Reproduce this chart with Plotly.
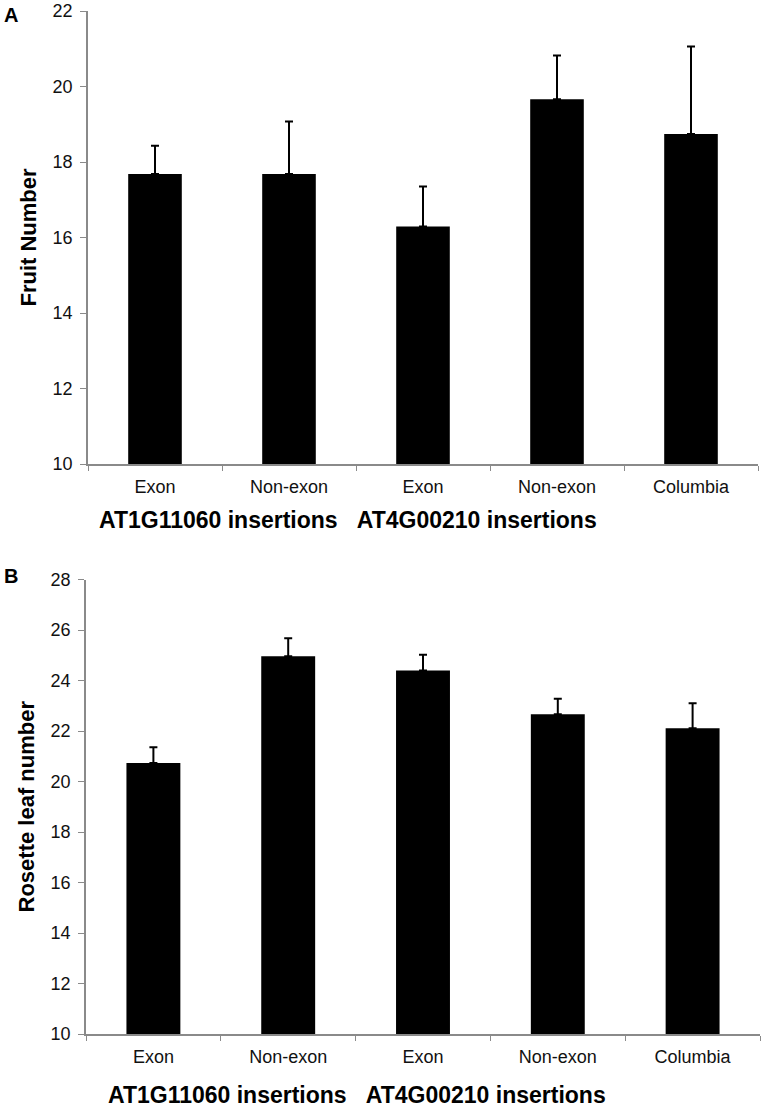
import plotly.graph_objects as go

categories = ["Exon", "Non-exon", "Exon ", "Non-exon ", "Columbia"]
tick_text = ["Exon", "Non-exon", "Exon", "Non-exon", "Columbia"]

fruit_mean = [17.68, 17.68, 16.29, 19.66, 18.74]
fruit_err = [0.75, 1.39, 1.06, 1.16, 2.32]

rosette_mean = [20.73, 24.96, 24.40, 22.66, 22.11]
rosette_err = [0.63, 0.71, 0.62, 0.62, 0.99]

group_label = "AT1G11060 insertions\u00a0\u00a0\u00a0AT4G00210 insertions"

W, H = 766, 1116
FONT = "Liberation Sans, Arial, sans-serif"


def px_x(p):
    return p / W


def px_y(p):
    return (H - p) / H


fig = go.Figure()

fig.add_trace(go.Bar(
    x=categories, y=fruit_mean, xaxis="x", yaxis="y",
    marker=dict(color="black", line=dict(width=0)),
    error_y=dict(type="data", array=fruit_err, symmetric=False,
                 arrayminus=[0] * 5, color="black", thickness=2, width=4),
    showlegend=False,
))
fig.add_trace(go.Bar(
    x=categories, y=rosette_mean, xaxis="x2", yaxis="y2",
    marker=dict(color="black", line=dict(width=0)),
    error_y=dict(type="data", array=rosette_err, symmetric=False,
                 arrayminus=[0] * 5, color="black", thickness=2, width=4),
    showlegend=False,
))

axis_col = "#8a8a8a"
xcommon = dict(
    type="category", tickmode="array", tickvals=categories, ticktext=tick_text,
    tickson="boundaries", ticks="outside", ticklen=5, tickcolor=axis_col,
    showline=True, linecolor=axis_col, linewidth=1.5, showgrid=False,
    tickfont=dict(family=FONT, size=18, color="#111"), automargin=False,
    ticklabelstandoff=6,
)
ycommon = dict(
    dtick=2, ticks="outside", ticklen=6, tickcolor=axis_col,
    showline=True, linecolor=axis_col, linewidth=1.5, showgrid=False,
    zeroline=False, tickfont=dict(family=FONT, size=18, color="#111"),
    automargin=False, ticklabelstandoff=4,
)

fig.update_layout(
    width=W, height=H,
    margin=dict(l=0, r=0, t=0, b=0),
    paper_bgcolor="white", plot_bgcolor="white",
    bargap=0.6,
    xaxis=dict(domain=[px_x(88), px_x(758)], anchor="y", **xcommon),
    yaxis=dict(domain=[px_y(464), px_y(11)], anchor="x", range=[10, 22],
               title=dict(text="<b>Fruit Number</b>", standoff=10,
                          font=dict(family=FONT, size=22, color="black")),
               **ycommon),
    xaxis2=dict(domain=[px_x(86), px_x(760)], anchor="y2", **xcommon),
    yaxis2=dict(domain=[px_y(1034), px_y(579.5)], anchor="x2", range=[10, 28],
                title=dict(text="<b>Rosette leaf number</b>", standoff=10,
                           font=dict(family=FONT, size=22, color="black")),
                **ycommon),
    annotations=[
        dict(text="<b>A</b>", x=px_x(11), y=px_y(15), xref="paper", yref="paper",
             showarrow=False, xanchor="center", yanchor="middle",
             font=dict(family=FONT, size=20, color="black")),
        dict(text="<b>B</b>", x=px_x(11), y=px_y(576), xref="paper", yref="paper",
             showarrow=False, xanchor="center", yanchor="middle",
             font=dict(family=FONT, size=20, color="black")),
        dict(text="<b>" + group_label + "</b>", x=px_x(348), y=px_y(520),
             xref="paper", yref="paper", showarrow=False,
             xanchor="center", yanchor="middle",
             font=dict(family=FONT, size=23, color="black")),
        dict(text="<b>" + group_label + "</b>", x=px_x(357), y=px_y(1095),
             xref="paper", yref="paper", showarrow=False,
             xanchor="center", yanchor="middle",
             font=dict(family=FONT, size=23, color="black")),
    ],
)

fig.write_html("out.html",
               config={"displayModeBar": False},
               post_script="document.body.style.margin='0px';document.body.style.overflow='hidden';")
